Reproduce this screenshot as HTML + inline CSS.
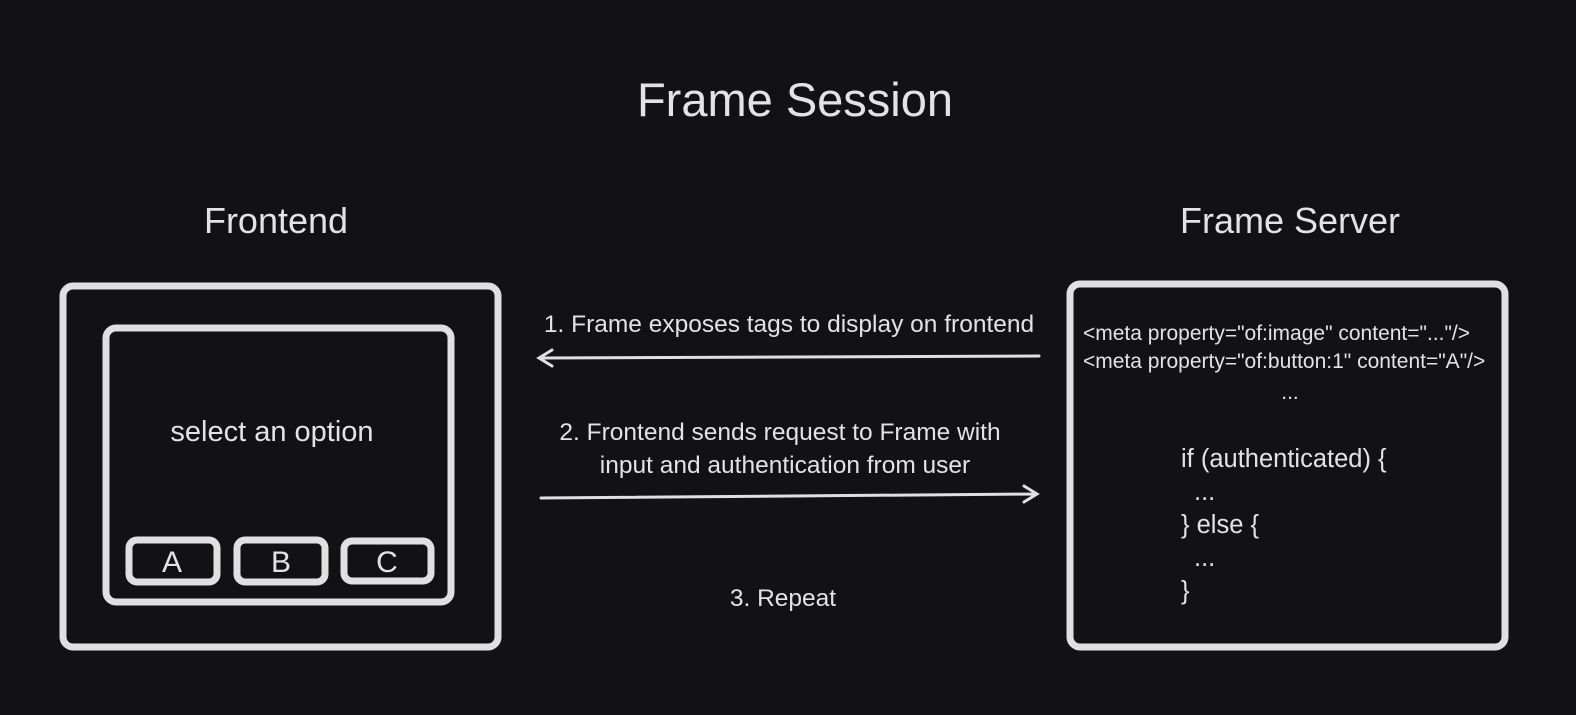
<!DOCTYPE html>
<html><head><meta charset="utf-8"><style>
html,body{margin:0;padding:0;background:#121214;}
svg{display:block;}
text{font-family:"Liberation Sans",sans-serif;fill:#e3e3e3;}
</style></head><body>
<svg width="1576" height="715" viewBox="0 0 1576 715">
<rect x="0" y="0" width="1576" height="715" fill="#121214"/>
<text x="795" y="116" font-size="47" text-anchor="middle">Frame Session</text>
<text x="276" y="233" font-size="36" text-anchor="middle">Frontend</text>
<text x="1290" y="233" font-size="36" text-anchor="middle">Frame Server</text>
<g fill="none" stroke="#e0e0e0" stroke-width="7">
<rect x="63" y="286" width="435" height="361" rx="10"/>
<rect x="106" y="328" width="345" height="274" rx="10"/>
<rect x="129" y="540" width="88" height="42" rx="8"/>
<rect x="237" y="540" width="88" height="42" rx="8"/>
<rect x="344" y="541" width="87" height="40" rx="8"/>
<rect x="1070" y="284" width="435" height="363" rx="10"/>
</g>
<text x="272" y="441" font-size="29" text-anchor="middle">select an option</text>
<text x="172" y="572" font-size="30" text-anchor="middle">A</text>
<text x="281" y="572" font-size="30" text-anchor="middle">B</text>
<text x="387" y="572" font-size="30" text-anchor="middle">C</text>
<text x="789" y="332" font-size="24.5" text-anchor="middle">1. Frame exposes tags to display on frontend</text>
<text x="780" y="440" font-size="24.5" text-anchor="middle">2. Frontend sends request to Frame with</text>
<text x="785" y="473" font-size="24.5" text-anchor="middle">input and authentication from user</text>
<text x="783" y="606" font-size="24.5" text-anchor="middle">3. Repeat</text>
<g stroke="#e0e0e0" stroke-width="3" fill="none" stroke-linecap="round">
<path d="M1039 356 L540 358 M552 350 L539 358 L552 366"/>
<path d="M541 498 L1036 494 M1024 486 L1037 494 L1024 502"/>
</g>
<text x="1083" y="340" font-size="21">&lt;meta property="of:image" content="..."/&gt;</text>
<text x="1083" y="368" font-size="21">&lt;meta property="of:button:1" content="A"/&gt;</text>
<text x="1290" y="399" font-size="21" text-anchor="middle">...</text>
<text x="1181" y="467" font-size="25.5">if (authenticated) {</text>
<text x="1194" y="500" font-size="25.5">...</text>
<text x="1181" y="533" font-size="25.5">} else {</text>
<text x="1194" y="566" font-size="25.5">...</text>
<text x="1181" y="599" font-size="25.5">}</text>
</svg>
</body></html>
